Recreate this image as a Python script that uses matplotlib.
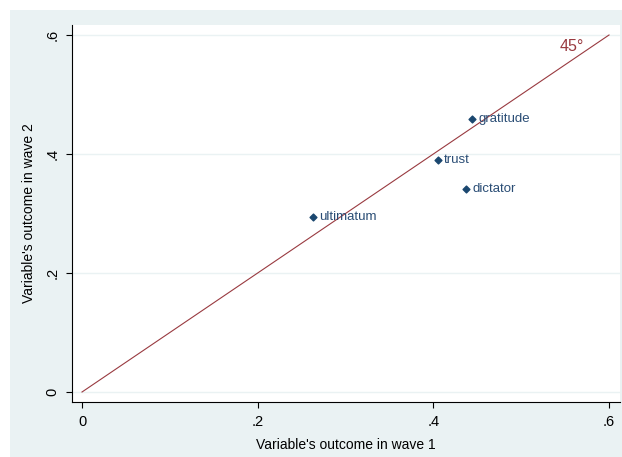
import matplotlib
matplotlib.use('Agg')
import matplotlib.pyplot as plt
from matplotlib.patches import Rectangle

# data
games = ['gratitude', 'trust', 'dictator', 'ultimatum']
wave1 = [0.444, 0.405, 0.437, 0.263]
wave2 = [0.459, 0.390, 0.341, 0.294]
ticks = [0, 0.2, 0.4, 0.6]
tick_labels = ['0', '.2', '.4', '.6']

plt.rcParams['font.family'] = ['Liberation Sans', 'DejaVu Sans']

navy = '#1a476f'
red = '#993a40'
bg = '#eaf2f3'

fig = plt.figure(figsize=(6.22, 4.57), dpi=100)
fig.patches.append(Rectangle((10 / 622, 0), 612 / 622, 447 / 457,
                             transform=fig.transFigure, facecolor=bg,
                             edgecolor='none', zorder=-5))

ax = fig.add_axes([72 / 622, 55 / 457, 548 / 622, 377 / 457])
ax.set_facecolor('white')

# 45 degree line
ax.plot([0, 0.6], [0, 0.6], color=red, lw=0.8, zorder=2)
ax.text(0.571, 0.573, '45°', color=red, fontsize=11.5, ha='right', va='baseline')

ax.scatter(wave1, wave2, marker='D', s=12, color=navy, zorder=3)
for g, x, y in zip(games, wave1, wave2):
    ax.annotate(g, (x, y), xytext=(4.5, 0), textcoords='offset points',
                va='center', ha='left', fontsize=9.5, color='#2a4d75')

ax.set_xlim(-0.0114, 0.6125)
ax.set_ylim(-0.0168, 0.6168)
ax.set_xticks(ticks)
ax.set_xticklabels(tick_labels)
ax.set_yticks(ticks)
ax.set_yticklabels(tick_labels, rotation=90, va='center')
ax.tick_params(labelsize=10.5, length=4, width=0.8, color='black', pad=5)
ax.grid(axis='y', color=bg, lw=1)
ax.set_axisbelow(True)
for s in ['top', 'right']:
    ax.spines[s].set_visible(False)
for s in ['left', 'bottom']:
    ax.spines[s].set_linewidth(0.8)

ax.set_xlabel("Variable's outcome in wave 1", fontsize=10, labelpad=7)
ax.set_ylabel("Variable's outcome in wave 2", fontsize=10, labelpad=7)

fig.savefig('out.png', dpi=100, facecolor='white')
plt.close(fig)
